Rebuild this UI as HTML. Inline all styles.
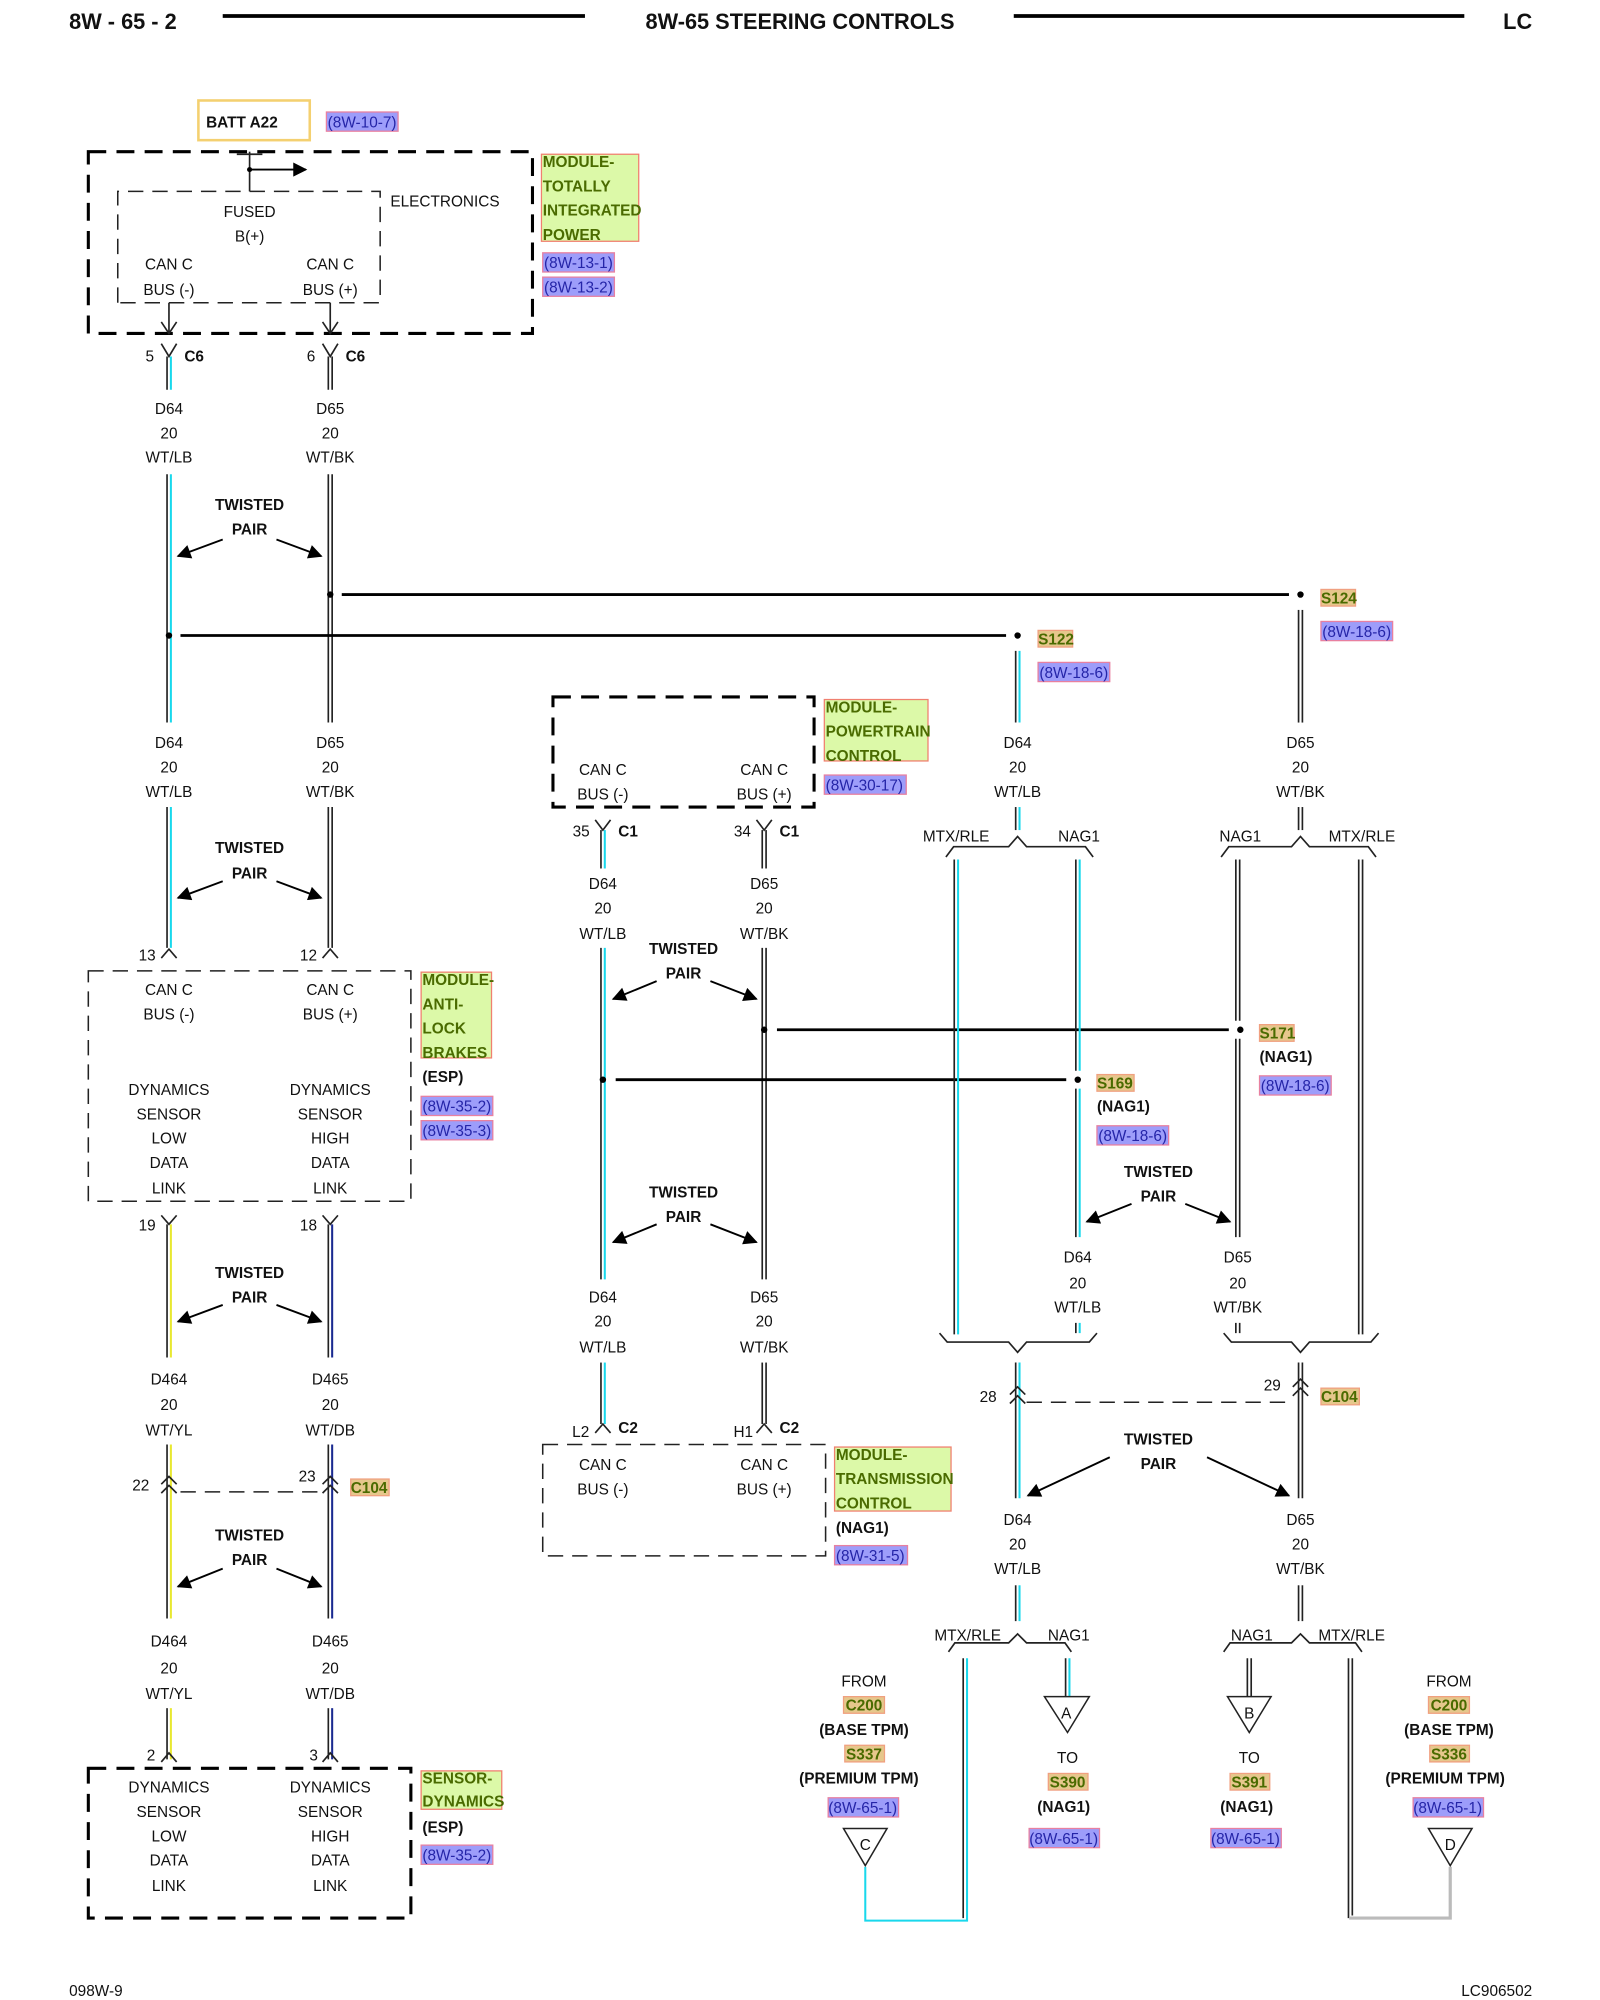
<!DOCTYPE html>
<html><head><meta charset="utf-8"><style>
html,body{margin:0;padding:0;background:#fff}
svg{display:block}
text{font-family:"Liberation Sans",Arial,sans-serif;font-size:12px;fill:#111}
.m{text-anchor:middle}
.b{font-weight:bold}
.k{stroke:#222;stroke-width:1.3;fill:none}
.cy{stroke:#19d8ec;stroke-width:1.6}
.yl{stroke:#e8e830;stroke-width:1.6}
.db{stroke:#1a2a90;stroke-width:1.6}
.th{stroke:#000;stroke-width:2.2}
.g{fill:#dcf9a8;stroke:#f08070;stroke-width:1}
.gt{fill:#4a6b00;font-weight:bold}
.rf{fill:#9d9dfa;stroke:#e880a0;stroke-width:1}
.rt{fill:#2525a8}
.sp{fill:#e6c78c;stroke:#f0a080;stroke-width:1}
.dk{stroke:#000;stroke-width:2.4;stroke-dasharray:14 8;fill:none}
.dt{stroke:#222;stroke-width:1.2;stroke-dasharray:12 7;fill:none}
</style></head><body>
<svg width="1600" height="2000" viewBox="1 1.5 1250 1562.5" xmlns="http://www.w3.org/2000/svg">
<defs><marker id="ah" viewBox="0 0 10 10" refX="9" refY="5" markerWidth="9" markerHeight="9" markerUnits="userSpaceOnUse" orient="auto"><path d="M0,0L10,5L0,10z" fill="#000"/></marker></defs>
<defs><marker id="ah2" viewBox="0 0 10 10" refX="9" refY="5" markerWidth="13" markerHeight="11" markerUnits="userSpaceOnUse" orient="auto"><path d="M0,0L10,5L0,10z" fill="#000"/></marker></defs>
<!-- header -->
<text x="55" y="24" class="b" style="font-size:17px">8W - 65 - 2</text>
<line x1="175" y1="14" x2="458" y2="14" stroke="#000" stroke-width="3"/>
<text x="626" y="24" class="b m" style="font-size:17px">8W-65 STEERING CONTROLS</text>
<line x1="793" y1="14" x2="1145" y2="14" stroke="#000" stroke-width="3"/>
<text x="1198" y="24" class="b" style="font-size:17px;text-anchor:end">LC</text>

<!-- BATT -->
<rect x="156" y="80" width="87" height="31" fill="#fff" stroke="#f4d070" stroke-width="2"/>
<text x="162" y="101" class="b">BATT A22</text>
<rect x="256" y="89" width="56" height="15" class="rf"/><text x="257" y="101" class="rt">(8W-10-7)</text>

<!-- TIPM -->
<rect x="70" y="120" width="347" height="142" class="dk"/>
<path d="M93,238 V151 H298 V238 H93" class="dt"/>
<line x1="196" y1="120" x2="196" y2="151" class="k"/>
<line x1="186" y1="122" x2="206" y2="122" class="k"/>
<circle cx="196" cy="134" r="2" fill="#000"/>
<line x1="196" y1="134" x2="240" y2="134" stroke="#000" stroke-width="1.5" marker-end="url(#ah2)"/>
<text x="306" y="163">ELECTRONICS</text>
<text x="196" y="171" class="m">FUSED</text><text x="196" y="190" class="m">B(+)</text>
<text x="133" y="212" class="m">CAN C</text><text x="133" y="232" class="m">BUS (-)</text>
<text x="259" y="212" class="m">CAN C</text><text x="259" y="232" class="m">BUS (+)</text>
<path d="M133,238V262M127,253L133,262L139,253M259,238V262M253,253L259,262L265,253" class="k"/>
<rect x="424" y="122" width="76" height="68" class="g"/>
<text x="425" y="132" class="gt">MODULE-</text><text x="425" y="151" class="gt">TOTALLY</text><text x="425" y="170" class="gt">INTEGRATED</text><text x="425" y="189" class="gt">POWER</text>
<rect x="425" y="199" width="56" height="15" class="rf"/><text x="426" y="211" class="rt">(8W-13-1)</text>
<rect x="425" y="218" width="56" height="15" class="rf"/><text x="426" y="230" class="rt">(8W-13-2)</text>

<!-- C6 connectors -->
<path d="M127,270L133,280L139,270M253,270L259,280L265,270" class="k"/>
<text x="118" y="284" class="m">5</text><text x="145" y="284" class="b">C6</text>
<text x="244" y="284" class="m">6</text><text x="271" y="284" class="b">C6</text>
<line x1="131.5" y1="280" x2="131.5" y2="306" class="k"/><line x1="134.5" y1="280" x2="134.5" y2="306" class="cy"/>
<line x1="257.5" y1="280" x2="257.5" y2="306" class="k"/><line x1="260.5" y1="280" x2="260.5" y2="306" class="k"/>
<g class="m"><text x="133" y="325">D64</text><text x="133" y="344">20</text><text x="133" y="363">WT/LB</text>
<text x="259" y="325">D65</text><text x="259" y="344">20</text><text x="259" y="363">WT/BK</text></g>

<!-- left column wires 1 -->
<line x1="131.5" y1="372" x2="131.5" y2="566" class="k"/><line x1="134.5" y1="372" x2="134.5" y2="566" class="cy"/>
<line x1="257.5" y1="372" x2="257.5" y2="566" class="k"/><line x1="260.5" y1="372" x2="260.5" y2="566" class="k"/>
<text x="196" y="400" class="b m">TWISTED</text><text x="196" y="419" class="b m">PAIR</text>
<line x1="175" y1="423" x2="140" y2="436" stroke="#000" stroke-width="1.5" marker-end="url(#ah2)"/>
<line x1="217" y1="423" x2="252" y2="436" stroke="#000" stroke-width="1.5" marker-end="url(#ah2)"/>

<!-- splices S124 S122 -->
<line x1="268" y1="466" x2="1008" y2="466" class="th"/>
<circle cx="259" cy="466" r="2.5" fill="#000"/><circle cx="1017" cy="466" r="2.5" fill="#000"/>
<rect x="1033" y="462" width="27" height="13" class="sp"/><text x="1033" y="473" class="gt">S124</text>
<rect x="1033" y="487" width="56" height="15" class="rf"/><text x="1034" y="499" class="rt">(8W-18-6)</text>
<line x1="142" y1="498" x2="787" y2="498" class="th"/>
<circle cx="133" cy="498" r="2.5" fill="#000"/><circle cx="796" cy="498" r="2.5" fill="#000"/>
<rect x="812" y="494" width="27" height="13" class="sp"/><text x="812" y="505" class="gt">S122</text>
<rect x="812" y="519" width="56" height="15" class="rf"/><text x="813" y="531" class="rt">(8W-18-6)</text>
<line x1="794.5" y1="510" x2="794.5" y2="566" class="k"/><line x1="797.5" y1="510" x2="797.5" y2="566" class="cy"/>
<line x1="1015.5" y1="478" x2="1015.5" y2="566" class="k"/><line x1="1018.5" y1="478" x2="1018.5" y2="566" class="k"/>

<g class="m"><text x="133" y="586">D64</text><text x="133" y="605">20</text><text x="133" y="624">WT/LB</text>
<text x="259" y="586">D65</text><text x="259" y="605">20</text><text x="259" y="624">WT/BK</text>
<text x="796" y="586">D64</text><text x="796" y="605">20</text><text x="796" y="624">WT/LB</text>
<text x="1017" y="586">D65</text><text x="1017" y="605">20</text><text x="1017" y="624">WT/BK</text></g>

<!-- left column wires 2 -->
<line x1="131.5" y1="632" x2="131.5" y2="742" class="k"/><line x1="134.5" y1="632" x2="134.5" y2="742" class="cy"/>
<line x1="257.5" y1="632" x2="257.5" y2="742" class="k"/><line x1="260.5" y1="632" x2="260.5" y2="742" class="k"/>
<text x="196" y="668" class="b m">TWISTED</text><text x="196" y="688" class="b m">PAIR</text>
<line x1="175" y1="690" x2="140" y2="703" stroke="#000" stroke-width="1.5" marker-end="url(#ah2)"/>
<line x1="217" y1="690" x2="252" y2="703" stroke="#000" stroke-width="1.5" marker-end="url(#ah2)"/>
<path d="M127,750L133,743L139,750M253,750L259,743L265,750" class="k"/>
<text x="116" y="752" class="m">13</text><text x="242" y="752" class="m">12</text>

<!-- ABS -->
<rect x="70" y="760" width="252" height="180" class="dt"/>
<g class="m"><text x="133" y="779">CAN C</text><text x="133" y="798">BUS (-)</text>
<text x="259" y="779">CAN C</text><text x="259" y="798">BUS (+)</text>
<text x="133" y="857">DYNAMICS</text><text x="133" y="876">SENSOR</text><text x="133" y="895">LOW</text><text x="133" y="914">DATA</text><text x="133" y="934">LINK</text>
<text x="259" y="857">DYNAMICS</text><text x="259" y="876">SENSOR</text><text x="259" y="895">HIGH</text><text x="259" y="914">DATA</text><text x="259" y="934">LINK</text></g>
<rect x="330" y="761" width="55" height="67" class="g"/>
<text x="331" y="771" class="gt">MODULE-</text><text x="331" y="790" class="gt">ANTI-</text><text x="331" y="809" class="gt">LOCK</text><text x="331" y="828" class="gt">BRAKES</text>
<text x="331" y="847" class="b">(ESP)</text>
<rect x="330" y="858" width="56" height="15" class="rf"/><text x="331" y="870" class="rt">(8W-35-2)</text>
<rect x="330" y="877" width="56" height="15" class="rf"/><text x="331" y="889" class="rt">(8W-35-3)</text>

<path d="M127,951L133,958L139,951M253,951L259,958L265,951" class="k"/>
<text x="116" y="963" class="m">19</text><text x="242" y="963" class="m">18</text>
<line x1="131.5" y1="958" x2="131.5" y2="1062" class="k"/><line x1="134.5" y1="958" x2="134.5" y2="1062" class="yl"/>
<line x1="257.5" y1="958" x2="257.5" y2="1062" class="k"/><line x1="260.5" y1="958" x2="260.5" y2="1062" class="db"/>
<text x="196" y="1000" class="b m">TWISTED</text><text x="196" y="1019" class="b m">PAIR</text>
<line x1="175" y1="1021" x2="140" y2="1034" stroke="#000" stroke-width="1.5" marker-end="url(#ah2)"/>
<line x1="217" y1="1021" x2="252" y2="1034" stroke="#000" stroke-width="1.5" marker-end="url(#ah2)"/>
<g class="m"><text x="133" y="1083">D464</text><text x="133" y="1103">20</text><text x="133" y="1123">WT/YL</text>
<text x="259" y="1083">D465</text><text x="259" y="1103">20</text><text x="259" y="1123">WT/DB</text></g>

<!-- C104 left -->
<line x1="131.5" y1="1130" x2="131.5" y2="1266" class="k"/><line x1="134.5" y1="1130" x2="134.5" y2="1266" class="yl"/>
<line x1="257.5" y1="1130" x2="257.5" y2="1266" class="k"/><line x1="260.5" y1="1130" x2="260.5" y2="1266" class="db"/>
<path d="M127,1161L133,1155L139,1161M127,1168L133,1162L139,1168M253,1161L259,1155L265,1161M253,1168L259,1162L265,1168" class="k" stroke-width="1.6"/>
<line x1="142" y1="1167" x2="252" y2="1167" class="dt"/>
<text x="111" y="1166" class="m">22</text><text x="241" y="1159" class="m">23</text>
<rect x="275" y="1157" width="30" height="13" class="sp"/><text x="275" y="1168" class="gt">C104</text>
<text x="196" y="1205" class="b m">TWISTED</text><text x="196" y="1224" class="b m">PAIR</text>
<line x1="175" y1="1227" x2="140" y2="1241" stroke="#000" stroke-width="1.5" marker-end="url(#ah2)"/>
<line x1="217" y1="1227" x2="252" y2="1241" stroke="#000" stroke-width="1.5" marker-end="url(#ah2)"/>
<g class="m"><text x="133" y="1288">D464</text><text x="133" y="1309">20</text><text x="133" y="1329">WT/YL</text>
<text x="259" y="1288">D465</text><text x="259" y="1309">20</text><text x="259" y="1329">WT/DB</text></g>
<line x1="131.5" y1="1336" x2="131.5" y2="1376" class="k"/><line x1="134.5" y1="1336" x2="134.5" y2="1376" class="yl"/>
<line x1="257.5" y1="1336" x2="257.5" y2="1376" class="k"/><line x1="260.5" y1="1336" x2="260.5" y2="1376" class="db"/>
<path d="M127,1378L133,1371L139,1378M253,1378L259,1371L265,1378" class="k"/>
<text x="119" y="1377" class="m">2</text><text x="246" y="1377" class="m">3</text>

<!-- sensor -->
<rect x="70" y="1383" width="252" height="117" class="dk"/>
<g class="m"><text x="133" y="1402">DYNAMICS</text><text x="133" y="1421">SENSOR</text><text x="133" y="1440">LOW</text><text x="133" y="1459">DATA</text><text x="133" y="1479">LINK</text>
<text x="259" y="1402">DYNAMICS</text><text x="259" y="1421">SENSOR</text><text x="259" y="1440">HIGH</text><text x="259" y="1459">DATA</text><text x="259" y="1479">LINK</text></g>
<rect x="330" y="1385" width="63" height="30" class="g"/>
<text x="331" y="1395" class="gt">SENSOR-</text><text x="331" y="1413" class="gt">DYNAMICS</text>
<text x="331" y="1433" class="b">(ESP)</text>
<rect x="330" y="1443" width="56" height="15" class="rf"/><text x="331" y="1455" class="rt">(8W-35-2)</text>

<!-- PCM -->
<rect x="433" y="546" width="204" height="86" class="dk"/>
<g class="m"><text x="472" y="607">CAN C</text><text x="472" y="626">BUS (-)</text>
<text x="598" y="607">CAN C</text><text x="598" y="626">BUS (+)</text></g>
<rect x="645" y="548" width="81" height="48" class="g"/>
<text x="646" y="558" class="gt">MODULE-</text><text x="646" y="577" class="gt">POWERTRAIN</text><text x="646" y="596" class="gt">CONTROL</text>
<rect x="645" y="607" width="64" height="15" class="rf"/><text x="646" y="619" class="rt">(8W-30-17)</text>
<path d="M466,642L472,650L478,642M592,642L598,650L604,642" class="k"/>
<text x="455" y="655" class="m">35</text><text x="484" y="655" class="b">C1</text>
<text x="581" y="655" class="m">34</text><text x="610" y="655" class="b">C1</text>
<line x1="470.5" y1="650" x2="470.5" y2="680" class="k"/><line x1="473.5" y1="650" x2="473.5" y2="680" class="cy"/>
<line x1="596.5" y1="650" x2="596.5" y2="680" class="k"/><line x1="599.5" y1="650" x2="599.5" y2="680" class="k"/>
<g class="m"><text x="472" y="696">D64</text><text x="472" y="715">20</text><text x="472" y="735">WT/LB</text>
<text x="598" y="696">D65</text><text x="598" y="715">20</text><text x="598" y="735">WT/BK</text></g>
<line x1="470.5" y1="742" x2="470.5" y2="1001" class="k"/><line x1="473.5" y1="742" x2="473.5" y2="1001" class="cy"/>
<line x1="596.5" y1="742" x2="596.5" y2="1001" class="k"/><line x1="599.5" y1="742" x2="599.5" y2="1001" class="k"/>
<text x="535" y="747" class="b m">TWISTED</text><text x="535" y="766" class="b m">PAIR</text>
<line x1="514" y1="768" x2="480" y2="782" stroke="#000" stroke-width="1.5" marker-end="url(#ah2)"/>
<line x1="556" y1="768" x2="592" y2="782" stroke="#000" stroke-width="1.5" marker-end="url(#ah2)"/>
<text x="535" y="937" class="b m">TWISTED</text><text x="535" y="956" class="b m">PAIR</text>
<line x1="514" y1="958" x2="480" y2="972" stroke="#000" stroke-width="1.5" marker-end="url(#ah2)"/>
<line x1="556" y1="958" x2="592" y2="972" stroke="#000" stroke-width="1.5" marker-end="url(#ah2)"/>
<g class="m"><text x="472" y="1019">D64</text><text x="472" y="1038">20</text><text x="472" y="1058">WT/LB</text>
<text x="598" y="1019">D65</text><text x="598" y="1038">20</text><text x="598" y="1058">WT/BK</text></g>
<line x1="470.5" y1="1066" x2="470.5" y2="1114" class="k"/><line x1="473.5" y1="1066" x2="473.5" y2="1114" class="cy"/>
<line x1="596.5" y1="1066" x2="596.5" y2="1114" class="k"/><line x1="599.5" y1="1066" x2="599.5" y2="1114" class="k"/>
<path d="M466,1121L472,1114L478,1121M592,1121L598,1114L604,1121" class="k"/>
<text x="448" y="1124">L2</text><text x="484" y="1121" class="b">C2</text>
<text x="574" y="1124">H1</text><text x="610" y="1121" class="b">C2</text>

<!-- TCM -->
<rect x="425" y="1130" width="221" height="87" class="dt"/>
<g class="m"><text x="472" y="1150">CAN C</text><text x="472" y="1169">BUS (-)</text>
<text x="598" y="1150">CAN C</text><text x="598" y="1169">BUS (+)</text></g>
<rect x="653" y="1132" width="91" height="50" class="g"/>
<text x="654" y="1142" class="gt">MODULE-</text><text x="654" y="1161" class="gt">TRANSMISSION</text><text x="654" y="1180" class="gt">CONTROL</text>
<text x="654" y="1199" class="b">(NAG1)</text>
<rect x="653" y="1209" width="57" height="15" class="rf"/><text x="654" y="1221" class="rt">(8W-31-5)</text>

<!-- S171/S169 -->
<line x1="608" y1="806" x2="961" y2="806" class="th"/>
<circle cx="598" cy="806" r="2.5" fill="#000"/><circle cx="970" cy="806" r="2.5" fill="#000"/>
<rect x="985" y="802" width="27" height="13" class="sp"/><text x="985" y="813" class="gt">S171</text>
<text x="985" y="831" class="b">(NAG1)</text>
<rect x="985" y="842" width="56" height="15" class="rf"/><text x="986" y="854" class="rt">(8W-18-6)</text>
<line x1="482" y1="845" x2="834" y2="845" class="th"/>
<circle cx="472" cy="845" r="2.5" fill="#000"/><circle cx="843" cy="845" r="2.5" fill="#000"/>
<rect x="858" y="841" width="29" height="13" class="sp"/><text x="858" y="852" class="gt">S169</text>
<text x="858" y="870" class="b">(NAG1)</text>
<rect x="858" y="881" width="56" height="15" class="rf"/><text x="859" y="893" class="rt">(8W-18-6)</text>

<!-- right upper splices -->
<line x1="794.5" y1="632" x2="794.5" y2="650" class="k"/><line x1="797.5" y1="632" x2="797.5" y2="650" class="cy"/>
<line x1="1015.5" y1="632" x2="1015.5" y2="650" class="k"/><line x1="1018.5" y1="632" x2="1018.5" y2="650" class="k"/>
<path d="M740,671L746,663L789,663L796,655L803,663L849,663L855,671" class="k"/>
<path d="M955,671L961,663L1010,663L1017,655L1024,663L1070,663L1076,671" class="k"/>
<text x="748" y="659" class="m">MTX/RLE</text><text x="844" y="659" class="m">NAG1</text>
<text x="970" y="659" class="m">NAG1</text><text x="1065" y="659" class="m">MTX/RLE</text>
<line x1="746.5" y1="673" x2="746.5" y2="1044" class="k"/><line x1="749.5" y1="673" x2="749.5" y2="1044" class="cy"/>
<line x1="841.5" y1="673" x2="841.5" y2="838" class="k"/><line x1="844.5" y1="673" x2="844.5" y2="838" class="cy"/>
<line x1="841.5" y1="852" x2="841.5" y2="968" class="k"/><line x1="844.5" y1="852" x2="844.5" y2="968" class="cy"/>
<line x1="841.5" y1="1035" x2="841.5" y2="1043" class="k"/><line x1="844.5" y1="1035" x2="844.5" y2="1043" class="cy"/>
<line x1="966.5" y1="673" x2="966.5" y2="799" class="k"/><line x1="969.5" y1="673" x2="969.5" y2="799" class="k"/>
<line x1="966.5" y1="813" x2="966.5" y2="968" class="k"/><line x1="969.5" y1="813" x2="969.5" y2="968" class="k"/>
<line x1="966.5" y1="1035" x2="966.5" y2="1043" class="k"/><line x1="969.5" y1="1035" x2="969.5" y2="1043" class="k"/>
<line x1="1062.5" y1="673" x2="1062.5" y2="1044" class="k"/><line x1="1065.5" y1="673" x2="1065.5" y2="1044" class="k"/>
<text x="906" y="921" class="b m">TWISTED</text><text x="906" y="940" class="b m">PAIR</text>
<line x1="885" y1="942" x2="850" y2="956" stroke="#000" stroke-width="1.5" marker-end="url(#ah2)"/>
<line x1="927" y1="942" x2="962" y2="956" stroke="#000" stroke-width="1.5" marker-end="url(#ah2)"/>
<g class="m"><text x="843" y="988">D64</text><text x="843" y="1008">20</text><text x="843" y="1027">WT/LB</text>
<text x="968" y="988">D65</text><text x="968" y="1008">20</text><text x="968" y="1027">WT/BK</text></g>
<path d="M735,1043L741,1050L789,1050L796,1058L803,1050L852,1050L858,1043" class="k"/>
<path d="M957,1043L963,1050L1010,1050L1017,1058L1024,1050L1072,1050L1078,1043" class="k"/>

<!-- C104 right -->
<line x1="794.5" y1="1066" x2="794.5" y2="1172" class="k"/><line x1="797.5" y1="1066" x2="797.5" y2="1172" class="cy"/>
<line x1="1015.5" y1="1066" x2="1015.5" y2="1172" class="k"/><line x1="1018.5" y1="1066" x2="1018.5" y2="1172" class="k"/>
<path d="M790,1091L796,1085L802,1091M790,1098L796,1092L802,1098M1011,1085L1017,1079L1023,1085M1011,1092L1017,1086L1023,1092" class="k" stroke-width="1.6"/>
<line x1="803" y1="1097" x2="1012" y2="1097" class="dt"/>
<text x="773" y="1097" class="m">28</text><text x="995" y="1088" class="m">29</text>
<rect x="1033" y="1086" width="30" height="13" class="sp"/><text x="1033" y="1097" class="gt">C104</text>
<text x="906" y="1130" class="b m">TWISTED</text><text x="906" y="1149" class="b m">PAIR</text>
<line x1="868" y1="1140" x2="804" y2="1170" stroke="#000" stroke-width="1.5" marker-end="url(#ah2)"/>
<line x1="944" y1="1140" x2="1008" y2="1170" stroke="#000" stroke-width="1.5" marker-end="url(#ah2)"/>
<g class="m"><text x="796" y="1193">D64</text><text x="796" y="1212">20</text><text x="796" y="1231">WT/LB</text>
<text x="1017" y="1193">D65</text><text x="1017" y="1212">20</text><text x="1017" y="1231">WT/BK</text></g>
<line x1="794.5" y1="1240" x2="794.5" y2="1268" class="k"/><line x1="797.5" y1="1240" x2="797.5" y2="1268" class="cy"/>
<line x1="1015.5" y1="1240" x2="1015.5" y2="1268" class="k"/><line x1="1018.5" y1="1240" x2="1018.5" y2="1268" class="k"/>

<!-- bottom splices -->
<path d="M742,1292L747,1285L789,1285L796,1278L803,1285L833,1285L838,1292" class="k"/>
<path d="M957,1292L962,1285L1010,1285L1017,1278L1024,1285L1060,1285L1065,1292" class="k"/>
<text x="757" y="1283" class="m">MTX/RLE</text><text x="836" y="1283" class="m">NAG1</text>
<text x="979" y="1283" class="m">NAG1</text><text x="1057" y="1283" class="m">MTX/RLE</text>
<line x1="753.5" y1="1297" x2="753.5" y2="1500" class="k"/>
<path d="M756.5,1297V1502H677V1460" fill="none" class="cy"/>
<line x1="833.5" y1="1297" x2="833.5" y2="1327" class="k"/><line x1="836.5" y1="1297" x2="836.5" y2="1327" class="cy"/>
<line x1="975.5" y1="1297" x2="975.5" y2="1327" class="k"/><line x1="978.5" y1="1297" x2="978.5" y2="1327" class="k"/>
<line x1="1054.5" y1="1297" x2="1054.5" y2="1500" class="k"/><line x1="1057.5" y1="1297" x2="1057.5" y2="1498" class="k"/>
<path d="M1055,1500H1134V1460" fill="none" stroke="#bbb" stroke-width="2.5"/>
<polygon points="817,1327 852,1327 835,1355" fill="#fff" stroke="#222" stroke-width="1.2"/><text x="834" y="1344" class="m">A</text>
<polygon points="960,1327 994,1327 977,1355" fill="#fff" stroke="#222" stroke-width="1.2"/><text x="977" y="1344" class="m">B</text>
<polygon points="660,1430 694,1430 677,1459" fill="#fff" stroke="#222" stroke-width="1.2"/><text x="677" y="1447" class="m">C</text>
<polygon points="1117,1430 1151,1430 1134,1459" fill="#fff" stroke="#222" stroke-width="1.2"/><text x="1134" y="1447" class="m">D</text>

<text x="676" y="1319" class="m">FROM</text>
<rect x="660" y="1327" width="32" height="13" class="sp"/><text x="676" y="1338" class="m gt">C200</text>
<text x="676" y="1357" class="m b">(BASE TPM)</text>
<rect x="661" y="1365" width="31" height="13" class="sp"/><text x="676" y="1376" class="m gt">S337</text>
<text x="672" y="1395" class="m b">(PREMIUM TPM)</text>
<rect x="648" y="1406" width="55" height="15" class="rf"/><text x="675" y="1418" class="m rt">(8W-65-1)</text>

<text x="835" y="1379" class="m">TO</text>
<rect x="820" y="1387" width="31" height="13" class="sp"/><text x="835" y="1398" class="m gt">S390</text>
<text x="832" y="1417" class="m b">(NAG1)</text>
<rect x="805" y="1430" width="55" height="15" class="rf"/><text x="832" y="1442" class="m rt">(8W-65-1)</text>

<text x="977" y="1379" class="m">TO</text>
<rect x="962" y="1387" width="31" height="13" class="sp"/><text x="977" y="1398" class="m gt">S391</text>
<text x="975" y="1417" class="m b">(NAG1)</text>
<rect x="947" y="1430" width="55" height="15" class="rf"/><text x="974" y="1442" class="m rt">(8W-65-1)</text>

<text x="1133" y="1319" class="m">FROM</text>
<rect x="1117" y="1327" width="32" height="13" class="sp"/><text x="1133" y="1338" class="m gt">C200</text>
<text x="1133" y="1357" class="m b">(BASE TPM)</text>
<rect x="1118" y="1365" width="31" height="13" class="sp"/><text x="1133" y="1376" class="m gt">S336</text>
<text x="1130" y="1395" class="m b">(PREMIUM TPM)</text>
<rect x="1105" y="1406" width="55" height="15" class="rf"/><text x="1132" y="1418" class="m rt">(8W-65-1)</text>

<text x="55" y="1561">098W-9</text>
<text x="1198" y="1561" style="text-anchor:end">LC906502</text>
</svg>
</body></html>
